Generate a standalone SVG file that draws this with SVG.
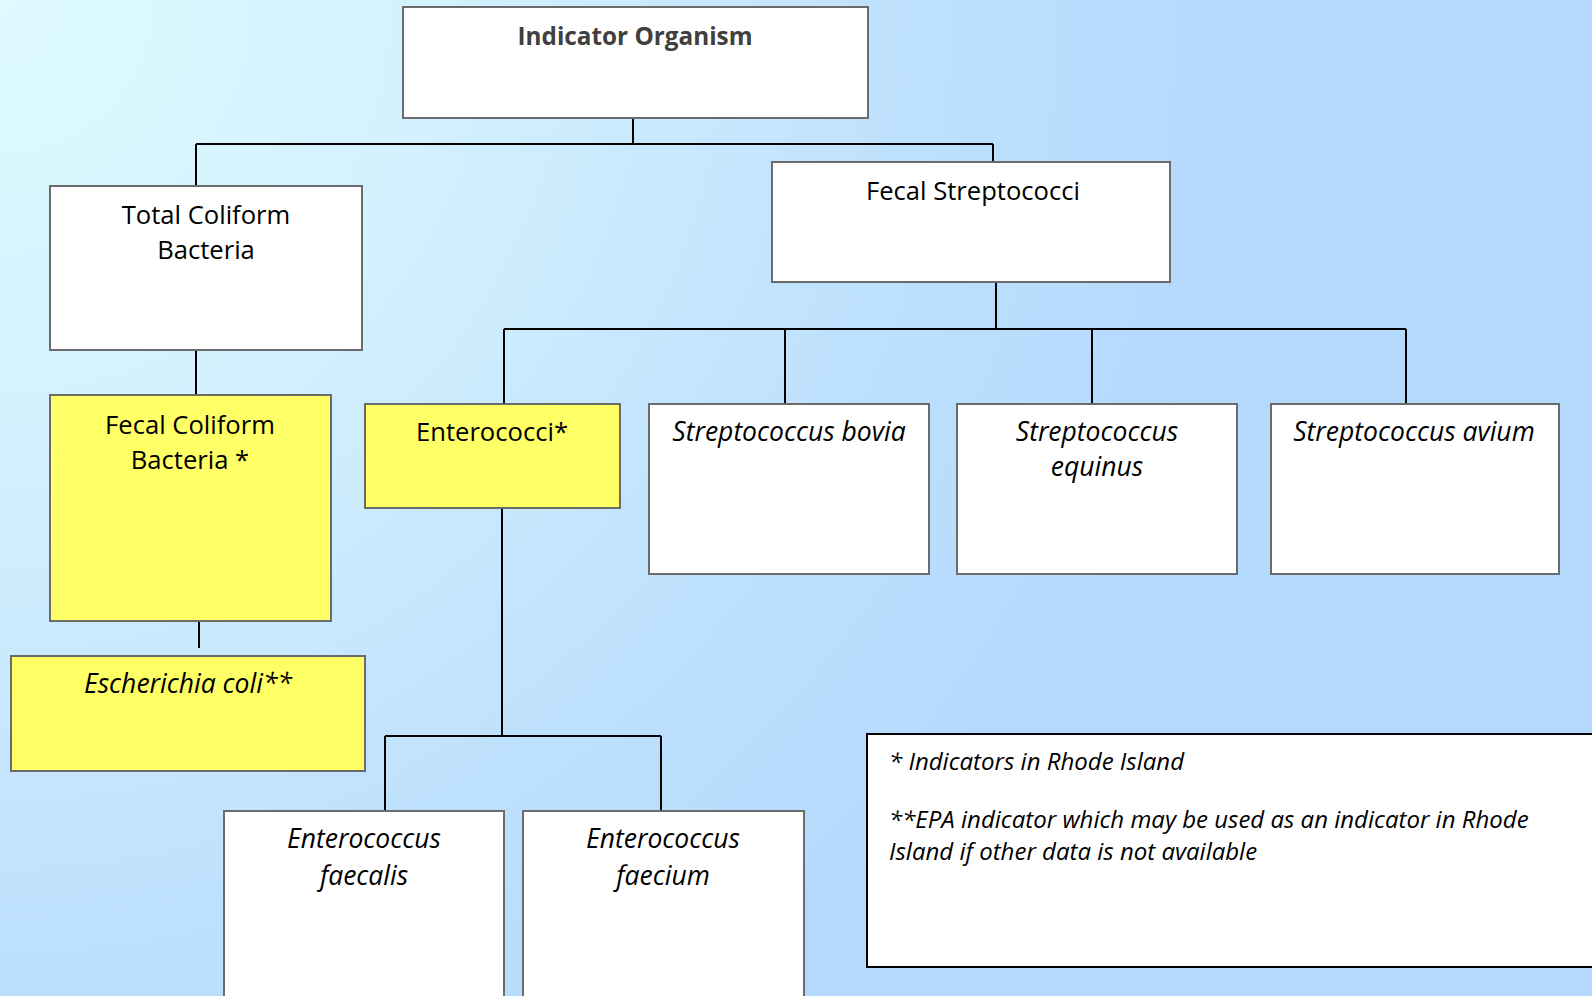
<svg xmlns="http://www.w3.org/2000/svg" width="1592" height="996" viewBox="0 0 1592 996">
  <defs>
    <radialGradient id="bg" gradientUnits="userSpaceOnUse" cx="0" cy="0" r="1250">
      <stop offset="0" stop-color="#def9ff"/>
      <stop offset="0.35" stop-color="#d3f1fe"/>
      <stop offset="0.75" stop-color="#bde0fd"/>
      <stop offset="1" stop-color="#b3d9fd"/>
    </radialGradient>
    <style>
      .box { fill: #ffffff; stroke: #6b6b6b; stroke-width: 2; }
      .ybox { fill: #ffff66; stroke: #6b6b6b; stroke-width: 2; }
      .legend { fill: #ffffff; stroke: #000000; stroke-width: 2; }
      .conn { fill: none; stroke: #000000; stroke-width: 2; }
      .t { font-family: "Open Sans", "Liberation Sans", sans-serif; font-size: 25.6px; fill: #000000; text-anchor: middle; }
      .i { font-style: italic; font-size: 26.5px; }
      .title { font-weight: bold; fill: #404040; font-size: 24.3px; }
      .lt { font-family: "Open Sans", "Liberation Sans", sans-serif; font-size: 24px; font-style: italic; fill: #000000; }
    </style>
  </defs>
  <rect x="0" y="0" width="1592" height="996" fill="url(#bg)"/>

  <g id="connectors">
    <path class="conn" d="M633 118 V144 M196 144 H993 M196 144 V186 M993 144 V162"/>
    <path class="conn" d="M196 350 V395"/>
    <path class="conn" d="M199 621 V648"/>
    <path class="conn" d="M996 282 V329 M504 329 H1406 M504 329 V404 M785 329 V404 M1092 329 V404 M1406 329 V404"/>
    <path class="conn" d="M502 508 V736 M385 736 H661 M385 736 V811 M661 736 V811"/>
  </g>

  <g id="indicator-organism">
    <rect class="box" x="403" y="7" width="465" height="111"/>
    <text class="t title" x="635" y="45">Indicator Organism</text>
  </g>
  <g id="total-coliform">
    <rect class="box" x="50" y="186" width="312" height="164"/>
    <text class="t" x="206" y="224">Total Coliform</text>
    <text class="t" x="206" y="259">Bacteria</text>
  </g>
  <g id="fecal-coliform">
    <rect class="ybox" x="50" y="395" width="281" height="226"/>
    <text class="t" x="190" y="434">Fecal Coliform</text>
    <text class="t" x="190" y="469">Bacteria *</text>
  </g>
  <g id="e-coli">
    <rect class="ybox" x="11" y="656" width="354" height="115"/>
    <text class="t i" x="188" y="693">Escherichia coli**</text>
  </g>
  <g id="fecal-streptococci">
    <rect class="box" x="772" y="162" width="398" height="120"/>
    <text class="t" x="973" y="200">Fecal Streptococci</text>
  </g>
  <g id="enterococci">
    <rect class="ybox" x="365" y="404" width="255" height="104"/>
    <text class="t" x="492" y="441">Enterococci*</text>
  </g>
  <g id="strep-bovia">
    <rect class="box" x="649" y="404" width="280" height="170"/>
    <text class="t i" x="789" y="441">Streptococcus bovia</text>
  </g>
  <g id="strep-equinus">
    <rect class="box" x="957" y="404" width="280" height="170"/>
    <text class="t i" x="1097" y="441">Streptococcus</text>
    <text class="t i" x="1097" y="476">equinus</text>
  </g>
  <g id="strep-avium">
    <rect class="box" x="1271" y="404" width="288" height="170"/>
    <text class="t i" x="1414" y="441">Streptococcus avium</text>
  </g>
  <g id="enterococcus-faecalis">
    <rect class="box" x="224" y="811" width="280" height="200"/>
    <text class="t i" x="364" y="848">Enterococcus</text>
    <text class="t i" x="364" y="885">faecalis</text>
  </g>
  <g id="enterococcus-faecium">
    <rect class="box" x="523" y="811" width="281" height="200"/>
    <text class="t i" x="663" y="848">Enterococcus</text>
    <text class="t i" x="663" y="885">faecium</text>
  </g>
  <g id="legend">
    <rect class="legend" x="867" y="734" width="740" height="233"/>
    <text class="lt" x="889" y="770">* Indicators in Rhode Island</text>
    <text class="lt" x="889" y="828">**EPA indicator which may be used as an indicator in Rhode</text>
    <text class="lt" x="889" y="860">Island if other data is not available</text>
  </g>
</svg>
